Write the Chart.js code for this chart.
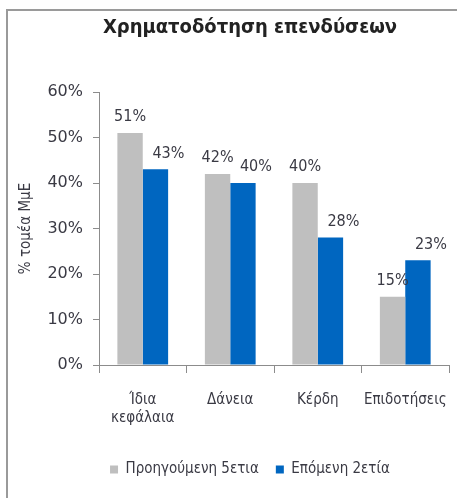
<!DOCTYPE html>
<html>
<head>
<meta charset="utf-8">
<script src="https://cdn.jsdelivr.net/npm/chart.js@4.4.0/dist/chart.umd.min.js"></script>
<style>
  html, body { margin: 0; padding: 0; background: #fff; overflow: hidden; }
  #wrap { position: relative; width: 457px; height: 498px; overflow: hidden; }
  #frame { position: absolute; left: 6px; top: 9px; width: 500px; height: 520px;
           border-left: 2px solid #9a9a9a; border-top: 2px solid #9a9a9a; }
  #myChart { position: absolute; left: 0; top: 0; }
</style>
</head>
<body>
<div id="wrap">
  <div id="frame"></div>
  <canvas id="myChart" width="485" height="498"></canvas>
</div>
<script>
// δεδομένα του γραφήματος
const categories = [['Ίδια', 'κεφάλαια'], 'Δάνεια', 'Κέρδη', 'Επιδοτήσεις'];
const seriesNames = ['Προηγούμενη 5ετια', 'Επόμενη 2ετία'];
const prev5 = [51, 42, 40, 15];
const next2 = [43, 40, 28, 23];
const yTicks = [0, 10, 20, 30, 40, 50, 60];

const txt = '#3a3a44';
const axisCol = '#8c8c8c';

// ετικέτες τιμών πάνω από τις μπάρες
const barLabels = {
  id: 'barLabels',
  afterDatasetsDraw(chart) {
    const ctx = chart.ctx;
    ctx.save();
    ctx.font = '16px "DejaVu Sans Condensed"';
    ctx.fillStyle = txt;
    ctx.textAlign = 'center';
    ctx.textBaseline = 'bottom';
    chart.data.datasets.forEach((ds, i) => {
      const meta = chart.getDatasetMeta(i);
      const dx = i === 0 ? 0 : 13;
      meta.data.forEach((bar, j) => {
        ctx.fillText(ds.data[j] + '%', bar.x + dx, bar.y - 8);
      });
    });
    ctx.restore();
  }
};

const ctx = document.getElementById('myChart').getContext('2d');
var myChart = new Chart(ctx, {
  type: 'bar',
  data: {
    labels: categories,
    datasets: [{
      label: seriesNames[0],
      data: prev5,
      backgroundColor: '#bfbfbf',
      categoryPercentage: 0.58,
      barPercentage: 1.0
    }, {
      label: seriesNames[1],
      data: next2,
      backgroundColor: '#0066c0',
      categoryPercentage: 0.58,
      barPercentage: 1.0
    }]
  },
  options: {
    responsive: false,
    animation: false,
    layout: { padding: { left: 15, right: 0, top: 0, bottom: 11 } },
    scales: {
      x: {
        grid: { display: true, drawOnChartArea: false, offset: true, tickLength: 8, color: axisCol },
        border: { color: axisCol },
        ticks: { color: txt, padding: 18, font: { family: 'DejaVu Sans Condensed', size: 15 }, maxRotation: 0, autoSkip: false }
      },
      y: {
        min: 0, max: 60,
        afterBuildTicks: s => { s.ticks = yTicks.map(v => ({ value: v })); },
        afterFit: s => { s.width = 84; },
        grid: { display: true, drawOnChartArea: false, tickLength: 6, color: axisCol },
        border: { color: axisCol },
        ticks: { color: txt, padding: 10, font: { family: 'DejaVu Sans', size: 16 }, callback: v => v + '%' },
        title: { display: true, text: '% τομέα ΜμΕ', color: txt, padding: 2, font: { family: 'DejaVu Sans Condensed', size: 15 } }
      },
      // κενός άξονας δεξιά ώστε ο τίτλος και το υπόμνημα να κεντράρονται όπως στο πρωτότυπο
      y2: {
        position: 'right', min: 0, max: 1,
        afterFit: s => { s.width = 36; },
        grid: { display: false }, border: { display: false }, ticks: { display: false }
      }
    },
    plugins: {
      title: {
        display: true,
        text: 'Χρηματοδότηση επενδύσεων',
        color: '#222',
        font: { family: 'DejaVu Sans Condensed', size: 20, weight: 'bold' },
        padding: { top: 16, bottom: 52 }
      },
      legend: {
        position: 'bottom',
        labels: { boxWidth: 8, boxHeight: 8, color: txt, padding: 17, font: { family: 'DejaVu Sans Condensed', size: 15 } }
      },
      tooltip: { enabled: false }
    }
  },
  plugins: [barLabels]
});
</script>
</body>
</html>
